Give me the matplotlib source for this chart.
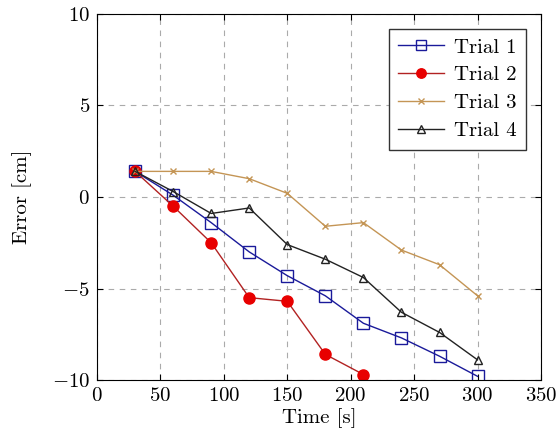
import matplotlib
matplotlib.use("Agg")
import matplotlib.pyplot as plt

plt.rcParams['font.family'] = 'cmr10'
plt.rcParams['mathtext.fontset'] = 'cm'
plt.rcParams['axes.formatter.use_mathtext'] = True
plt.rcParams['font.size'] = 15

time = [30, 60, 90, 120, 150, 180, 210, 240, 270, 300]
trial1 = [1.4, 0.1, -1.4, -3.0, -4.3, -5.4, -6.9, -7.7, -8.7, -9.8]
trial2 = [1.4, -0.5, -2.5, -5.5, -5.7, -8.6, -9.7]
trial3 = [1.4, 1.4, 1.4, 1.0, 0.2, -1.6, -1.4, -2.9, -3.7, -5.4]
trial4 = [1.4, 0.3, -0.9, -0.6, -2.6, -3.4, -4.4, -6.3, -7.4, -8.9]

fig = plt.figure(figsize=(5.57, 4.48), dpi=100)
ax = fig.add_axes([97/557, 68/448, 444/557, 366/448])

ax.plot(time, trial1, color='#1a1a9a', marker='s', markersize=8, markerfacecolor='none',
        markeredgecolor='#1a1a9a', lw=1, label='Trial 1')
ax.plot(time[:len(trial2)], trial2, color='#b22222', marker='o', markersize=8,
        markerfacecolor='#e80000', markeredgecolor='#e80000', lw=1, label='Trial 2')
ax.plot(time, trial3, color='#c49555', marker='x', markersize=5, lw=1, label='Trial 3')
ax.plot(time, trial4, color='#222222', marker='^', markersize=6, markerfacecolor='none',
        lw=1, label='Trial 4')

ax.set_xlim(0, 350)
ax.set_ylim(-10, 10)
ax.set_xticks(range(0, 351, 50))
ax.set_yticks([-10, -5, 0, 5, 10])
ax.grid(True, color='#aaaaaa', linestyle=(0, (5, 5)), lw=0.8)
ax.tick_params(direction='in', top=True, right=True, length=4, pad=5)
ax.set_xlabel('Time [s]', labelpad=2)
ax.set_ylabel('Error [cm]', labelpad=14)

leg = ax.legend(loc='upper right', fancybox=False, edgecolor='#333333', framealpha=1,
                handlelength=2.2, borderaxespad=0.7, labelspacing=0.45,
                handletextpad=0.5, borderpad=0.45, markerscale=0.85)
leg.get_frame().set_linewidth(1.0)

fig.savefig('out.png', dpi=100)
